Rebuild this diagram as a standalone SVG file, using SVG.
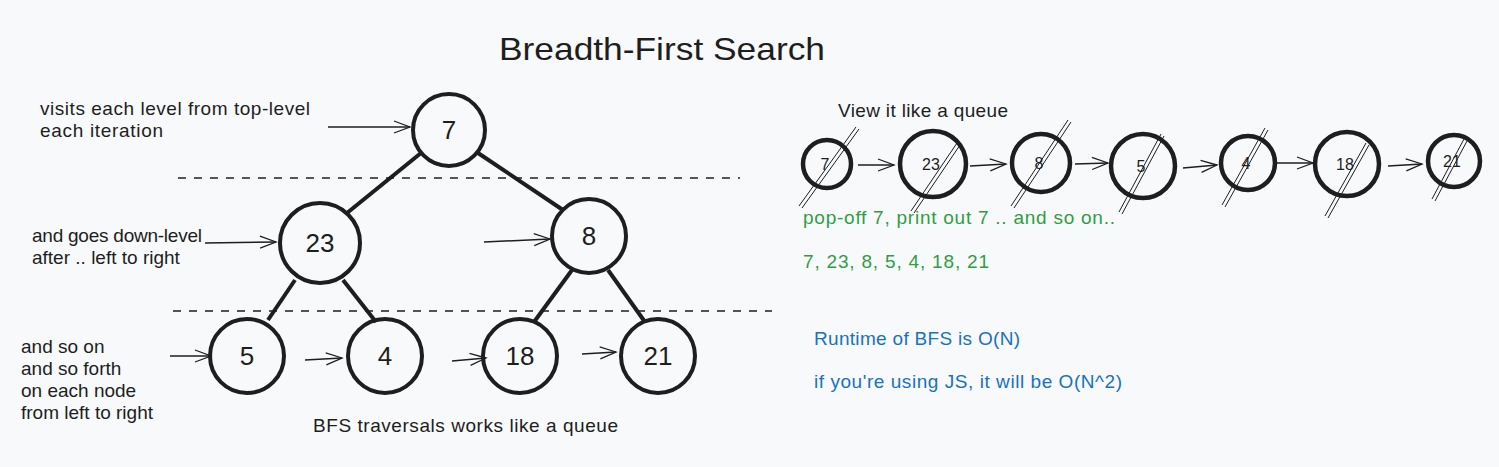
<svg xmlns="http://www.w3.org/2000/svg" width="1499" height="467" viewBox="0 0 1499 467">
<defs>
<marker id="arr" viewBox="0 0 20 20" refX="18" refY="10" markerWidth="20" markerHeight="20" markerUnits="userSpaceOnUse" orient="auto">
<polyline points="2,4 18,10 2,16" fill="none" stroke="#1e1e1e" stroke-width="1.3"/>
</marker>
</defs>
<style>
text{font-family:"Liberation Sans","DejaVu Sans",sans-serif;fill:#1e1e1e}
.node{fill:none;stroke:#1e1e1e;stroke-width:4}
.qnode{fill:none;stroke:#1e1e1e;stroke-width:4.5}
.num{font-size:26px;text-anchor:middle;dominant-baseline:central}
.qnum{font-size:16px;text-anchor:middle;dominant-baseline:central}
.edge{stroke:#1e1e1e;stroke-width:4;fill:none}
.dash{stroke:#1e1e1e;stroke-width:1.3;stroke-dasharray:8 8;fill:none}
.arrow{stroke:#1e1e1e;stroke-width:1.5;fill:none;marker-end:url(#arr)}
.cross{stroke:#1e1e1e;stroke-width:1;fill:none}
.lbl{font-size:19px}
.green{fill:#2f9e44;font-size:19px}
.blue{fill:#1971c2;font-size:19px}
</style>
<rect width="1499" height="467" fill="#f8f9fa"/>
<text x="499" y="60" font-size="32" textLength="326" lengthAdjust="spacingAndGlyphs">Breadth-First Search</text>

<g id="connectors">
<line class="edge" x1="421" y1="153" x2="347" y2="213"/>
<line class="edge" x1="478" y1="153" x2="563" y2="210"/>
<line class="edge" x1="295" y1="280" x2="268" y2="320"/>
<line class="edge" x1="343" y1="280" x2="376" y2="322"/>
<line class="edge" x1="572" y1="270" x2="534" y2="322"/>
<line class="edge" x1="608" y1="270" x2="645" y2="322"/>
<line class="dash" x1="178" y1="178" x2="740" y2="178"/>
<line class="dash" x1="173" y1="311" x2="772" y2="311"/>
<line class="arrow" x1="328" y1="127" x2="410" y2="127"/>
<line class="arrow" x1="205" y1="243" x2="276" y2="242"/>
<line class="arrow" x1="484" y1="242" x2="550" y2="239"/>
<line class="arrow" x1="170" y1="356" x2="211" y2="356"/>
<line class="arrow" x1="305" y1="360" x2="342" y2="358"/>
<line class="arrow" x1="452" y1="361" x2="486" y2="358"/>
<line class="arrow" x1="582" y1="354" x2="616" y2="352"/>
<line class="arrow" x1="858" y1="165" x2="894" y2="165"/>
<line class="arrow" x1="970" y1="166" x2="1006" y2="164"/>
<line class="arrow" x1="1075" y1="164" x2="1108" y2="163"/>
<line class="arrow" x1="1183" y1="168" x2="1217" y2="165"/>
<line class="arrow" x1="1277" y1="163" x2="1313" y2="163"/>
<line class="arrow" x1="1388" y1="166" x2="1422" y2="164"/>
</g>

<g id="n7"><circle class="node" cx="449" cy="130" r="36"/><text class="num" x="449" y="130">7</text></g>
<g id="n23"><circle class="node" cx="320" cy="243" r="40"/><text class="num" x="320" y="243">23</text></g>
<g id="n8"><circle class="node" cx="589" cy="236" r="37"/><text class="num" x="589" y="236">8</text></g>
<g id="n5"><circle class="node" cx="247" cy="356" r="37"/><text class="num" x="247" y="356">5</text></g>
<g id="n4"><circle class="node" cx="385" cy="356" r="37"/><text class="num" x="385" y="356">4</text></g>
<g id="n18"><circle class="node" cx="520" cy="356" r="37"/><text class="num" x="520" y="356">18</text></g>
<g id="n21"><circle class="node" cx="658" cy="356" r="37"/><text class="num" x="658" y="356">21</text></g>

<g id="q7"><circle class="qnode" cx="827" cy="164" r="24"/><text class="qnum" x="825" y="164">7</text>
<line class="cross" x1="799" y1="206" x2="856" y2="127"/><line class="cross" x1="802" y1="208" x2="859" y2="129"/></g>
<g id="q23"><circle class="qnode" cx="933" cy="164" r="33"/><text class="qnum" x="931" y="164">23</text>
<line class="cross" x1="911" y1="211" x2="957" y2="143"/><line class="cross" x1="914" y1="213" x2="960" y2="145"/></g>
<g id="q8"><circle class="qnode" cx="1041" cy="163" r="29"/><text class="qnum" x="1039" y="163">8</text>
<line class="cross" x1="1011" y1="206" x2="1068" y2="120"/><line class="cross" x1="1014" y1="208" x2="1071" y2="122"/></g>
<g id="q5"><circle class="qnode" cx="1143" cy="166" r="32"/><text class="qnum" x="1141" y="166">5</text>
<line class="cross" x1="1119" y1="212" x2="1161" y2="134"/><line class="cross" x1="1122" y1="214" x2="1164" y2="136"/></g>
<g id="q4"><circle class="qnode" cx="1248" cy="163" r="27"/><text class="qnum" x="1246" y="163">4</text>
<line class="cross" x1="1222" y1="205" x2="1265" y2="128"/><line class="cross" x1="1225" y1="207" x2="1268" y2="130"/></g>
<g id="q18"><circle class="qnode" cx="1347" cy="164" r="32"/><text class="qnum" x="1345" y="164">18</text>
<line class="cross" x1="1325" y1="216" x2="1366" y2="143"/><line class="cross" x1="1328" y1="218" x2="1369" y2="145"/></g>
<g id="q21"><circle class="qnode" cx="1454" cy="161" r="26"/><text class="qnum" x="1452" y="161">21</text>
<line class="cross" x1="1432" y1="199" x2="1464" y2="139"/><line class="cross" x1="1435" y1="201" x2="1467" y2="141"/></g>

<g id="labels">
<text class="lbl" x="40" y="115" textLength="270">visits each level from top-level</text>
<text class="lbl" x="40" y="137" textLength="123">each iteration</text>
<text class="lbl" x="32" y="242" textLength="170">and goes down-level</text>
<text class="lbl" x="32" y="264">after .. left to right</text>
<text class="lbl" x="21" y="353">and so on</text>
<text class="lbl" x="21" y="375">and so forth</text>
<text class="lbl" x="21" y="397">on each node</text>
<text class="lbl" x="21" y="419">from left to right</text>
<text class="lbl" x="313" y="432" textLength="305">BFS traversals works like a queue</text>
<text class="lbl" x="838" y="117" textLength="170">View it like a queue</text>
<text class="green" x="803" y="224" textLength="312">pop-off 7, print out 7 .. and so on..</text>
<text class="green" x="803" y="268" textLength="186">7, 23, 8, 5, 4, 18, 21</text>
<text class="blue" x="814" y="345" textLength="206">Runtime of BFS is O(N)</text>
<text class="blue" x="814" y="388" textLength="308">if you're using JS, it will be O(N^2)</text>
</g>
</svg>
